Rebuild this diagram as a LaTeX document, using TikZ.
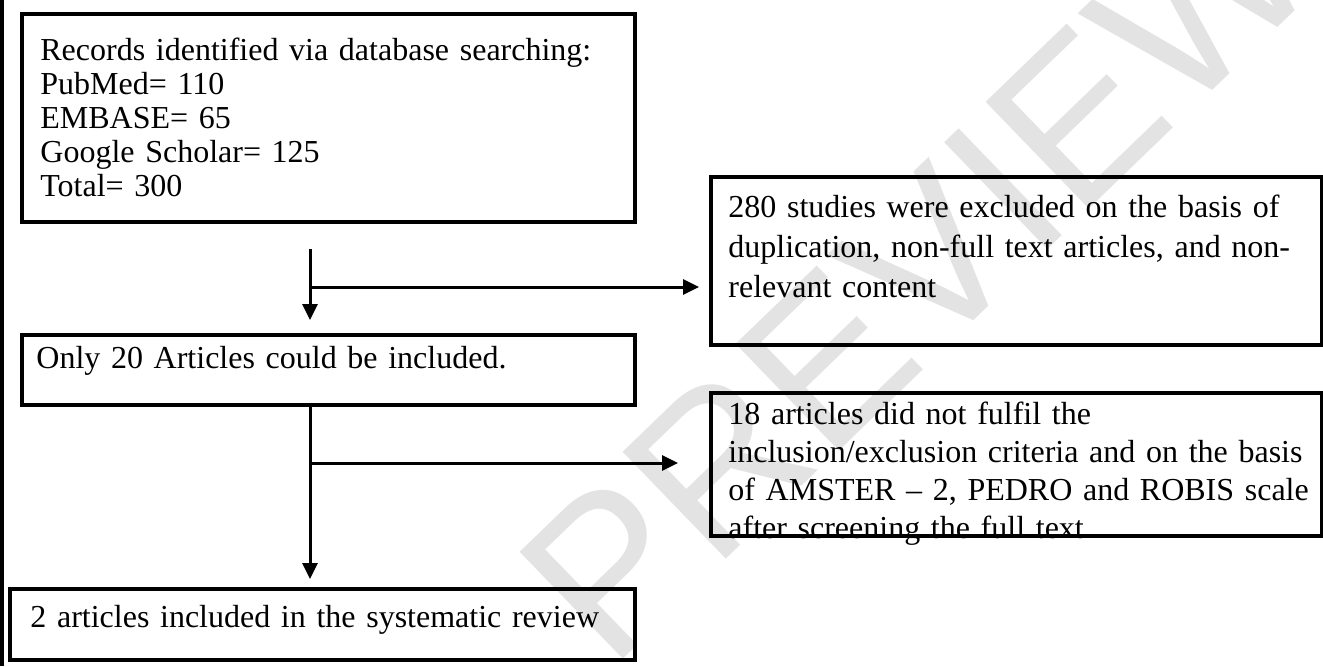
\documentclass[tikz,border=0pt]{standalone}
\usepackage{fontspec}
\setmainfont{Liberation Serif}
\newfontfamily\wmfont{Liberation Sans}
\usetikzlibrary{positioning, arrows.meta, calc}

\begin{document}
\begin{tikzpicture}[x=0.5pt, y=-0.5pt,
	box/.style={draw, line width=2pt, anchor=north west, inner sep=0pt},
	txt/.style={anchor=base west, inner sep=0pt, text width=310pt, align=left, font=\fontsize{16pt}{#1}\selectfont},
	arr/.style={line width=1.5pt, -{Triangle[length=8pt, width=7.5pt]}}]
	\useasboundingbox (0,0) rectangle (1323,666);
	\node[rotate=44, text=gray!22, anchor=base west, inner sep=0pt, font=\wmfont\fontsize{108pt}{108pt}\selectfont] (wm) at (610,672) {PREVIEW};
	\fill (0,0) rectangle (4,666);

	\node[txt=17pt] (trec) at (40,60) {Records identified via database searching:\\ PubMed= 110\\ EMBASE= 65\\ Google Scholar= 125\\ Total= 300};
	\node[txt=20pt] (texcla) at (728,217) {280 studies were excluded on the basis of\\ duplication, non-full text articles, and non-\\ relevant content};
	\node[txt=17pt] (tincl) at (36,368) {Only 20 Articles could be included.};
	\node[txt=19pt] (texclb) at (728,424) {18 articles did not fulfil the\\ inclusion/exclusion criteria and on the basis\\ of AMSTER -- 2, PEDRO and ROBIS scale\\ after screening the full text};
	\node[txt=17pt] (tfinal) at (30,627) {2 articles included in the systematic review};

	\node[box, minimum width=306.5pt, minimum height=104pt] (rec) at (20,12) {};
	\node[box, minimum width=305.5pt, minimum height=84pt] (excla) at (709,175) {};
	\node[box, minimum width=306.5pt, minimum height=35pt] (incl) at (20,333) {};
	\node[box, minimum width=305.5pt, minimum height=71.5pt] (exclb) at (709,391) {};
	\node[box, minimum width=312.5pt, minimum height=35.5pt] (final) at (8,587) {};

	\coordinate (split1) at (310,287);
	\coordinate (split2) at (310,463);
	\draw[arr, shorten <=12.5pt, shorten >=6.5pt] (rec.south -| split1) -- (incl.north -| split1);
	\draw[arr, shorten >=5pt] (split1) -- (split1 -| excla.west);
	\draw[arr, shorten >=4pt] (incl.south -| split2) -- (final.north -| split2);
	\draw[arr, shorten >=15.5pt] (split2) -- (split2 -| exclb.west);
\end{tikzpicture}
\end{document}
